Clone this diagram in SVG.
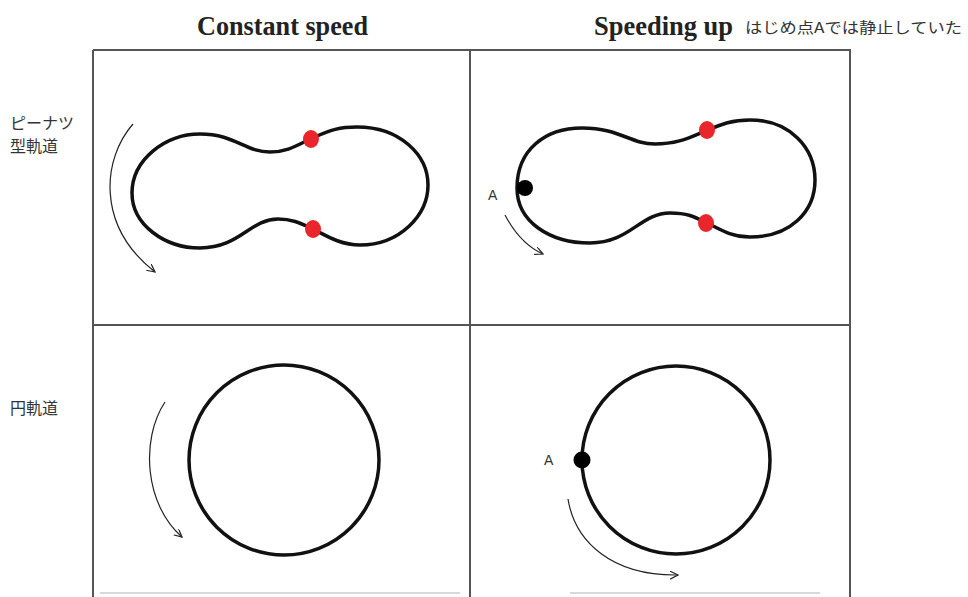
<svg xmlns="http://www.w3.org/2000/svg" width="968" height="597" viewBox="0 0 968 597">
<style>
.grid{stroke:#555;stroke-width:2;fill:none}
.orbit{stroke:#111;stroke-width:3.5;fill:none}
.arrow{stroke:#222;stroke-width:1.2;fill:none;marker-end:url(#ah)}
.title{font-family:"Liberation Serif",serif;font-weight:bold;font-size:27px;fill:#222}
.jp{font-family:"Noto Sans CJK JP",sans-serif;fill:#333}
.lbl{font-family:"Liberation Sans",sans-serif;font-size:14px;fill:#333}
.red{fill:#e8262b}
</style>
<defs>
<marker id="ah" markerWidth="10" markerHeight="10" refX="8" refY="4" orient="auto" markerUnits="userSpaceOnUse">
<path d="M0,0 L8,4 L0,8" fill="none" stroke="#222" stroke-width="1.2"/>
</marker>
</defs>
<rect width="968" height="597" fill="#fff"/>
<g id="titles">
<text class="title" x="197" y="35" textLength="171" lengthAdjust="spacingAndGlyphs">Constant speed</text>
<text class="title" x="594" y="35" textLength="139" lengthAdjust="spacingAndGlyphs">Speeding up</text>
<text class="jp" x="745" y="33" font-size="15" textLength="217" lengthAdjust="spacingAndGlyphs">はじめ点Aでは静止していた</text>
</g>
<g id="row-labels">
<text class="jp" x="10" y="129" font-size="16">ピーナツ</text>
<text class="jp" x="10" y="152" font-size="16">型軌道</text>
<text class="jp" x="10" y="414" font-size="16">円軌道</text>
</g>
<g id="grid">
<path class="grid" d="M93,50 H850 V597 M93,50 V597 M470,50 V597 M93,325 H850"/>
<path d="M100,593 H460 M570,593 H820" stroke="#ccc" stroke-width="1.5"/>
</g>
<g id="peanut-constant">
<path class="orbit" d="M132,193 C132,160 165,134 200,134 C235,134 245,152 270,152 C290,152 300,143 315,137 C330,130 340,127 357,127 C400,127 428,155 428,185 C428,215 400,245 360,245 C340,245 325,235 313,229 C300,223 292,219 278,219 C250,219 240,248 200,248 C165,248 132,225 132,193 Z"/>
<ellipse class="red" cx="311" cy="139" rx="8" ry="9"/>
<ellipse class="red" cx="313" cy="229" rx="8" ry="9"/>
</g>
<g id="peanut-speeding">
<path class="orbit" d="M517,188 C517,150 545,128 582,128 C620,128 630,144 655,144 C680,144 692,136 708,130 C722,124 732,120 750,120 C790,120 815,148 815,180 C815,212 790,237 750,237 C730,237 718,228 707,223 C695,217 688,213 670,213 C640,213 630,243 590,243 C550,243 517,222 517,188 Z"/>
<ellipse class="red" cx="707" cy="130" rx="8" ry="9"/>
<ellipse class="red" cx="706" cy="223" rx="8" ry="9"/>
<circle cx="525" cy="188" r="8" fill="#000"/>
<text class="lbl" x="488" y="200">A</text>
</g>
<g id="circle-constant">
<circle class="orbit" cx="284" cy="460" r="95"/>
</g>
<g id="circle-speeding">
<circle class="orbit" cx="676" cy="460" r="94"/>
<circle cx="582" cy="460" r="8.5" fill="#000"/>
<text class="lbl" x="544" y="465">A</text>
</g>
<g id="connectors">
<path class="arrow" d="M133,124 C103,158 95,225 155,272"/>
<path class="arrow" d="M505,215 C514,232 525,246 543,254"/>
<path class="arrow" d="M165,402 C140,440 145,505 182,537"/>
<path class="arrow" d="M568,499 C575,542 612,576 678,575"/>
</g>
</svg>
